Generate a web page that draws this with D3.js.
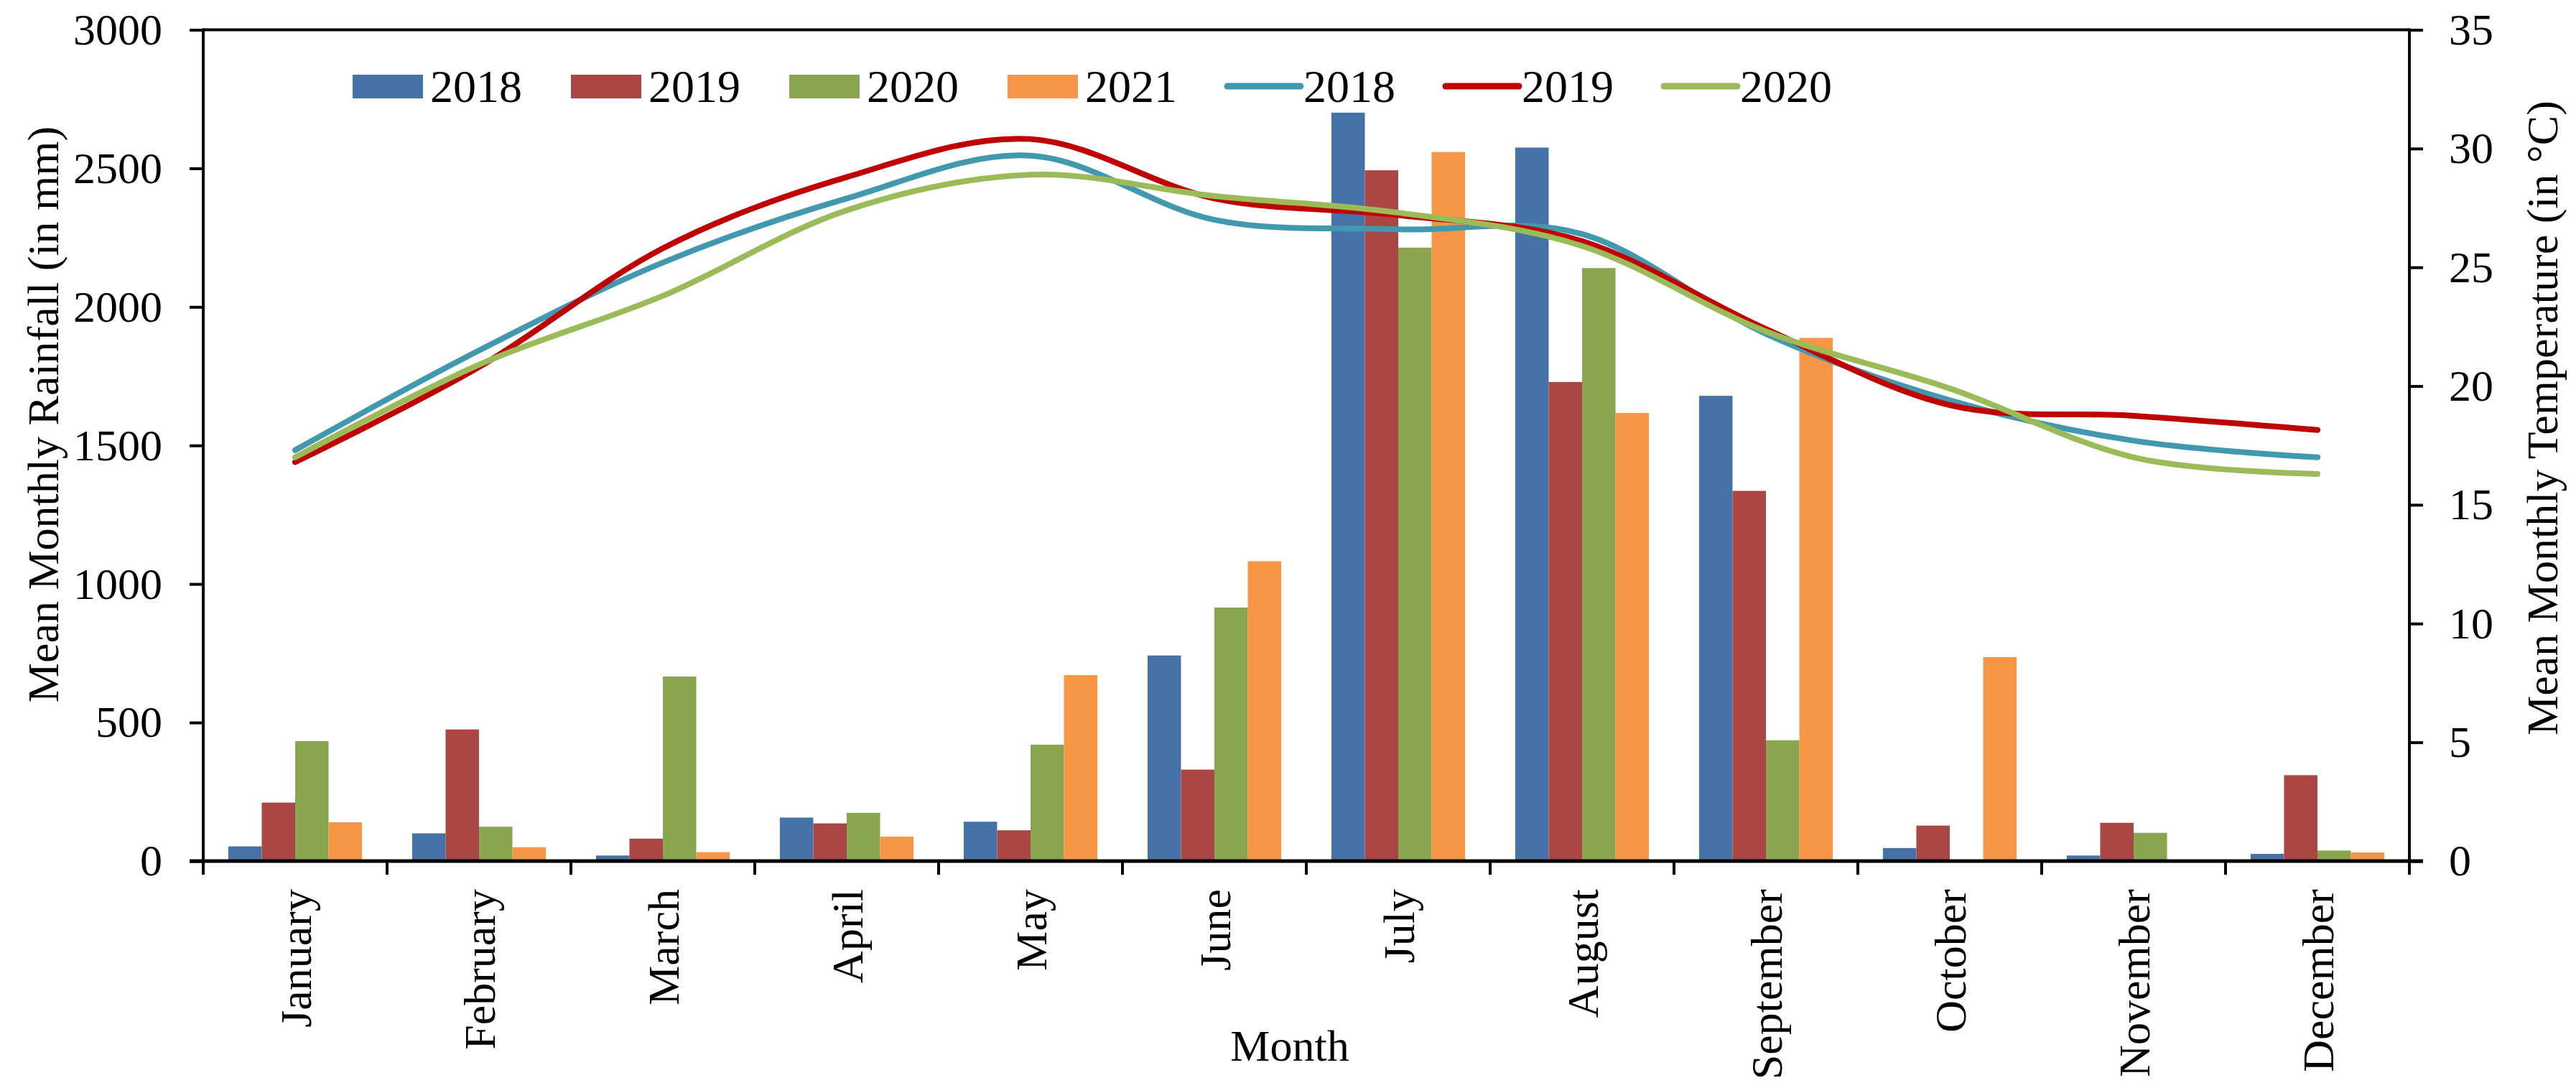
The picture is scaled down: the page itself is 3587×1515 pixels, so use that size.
<!DOCTYPE html>
<html>
<head>
<meta charset="utf-8">
<script src="https://cdn.jsdelivr.net/npm/d3@7"></script>
<style>
  body { margin: 0; background: #fff; }
  text { font-family: "Liberation Serif", "Times New Roman", serif; fill: #000; }
</style>
</head>
<body>
<div id="chart"></div>
<script>
// months on the x axis
var months = ["January", "February", "March", "April", "May", "June", "July",
              "August", "September", "October", "November", "December"];
var barYears = ["2018", "2019", "2020", "2021"];
var lineYears = ["2018", "2019", "2020"];

// mean monthly rainfall (mm)
var rain2018 = [53, 100, 20, 157, 142, 742, 2701, 2575, 1679, 47, 20, 26];
var rain2019 = [211, 475, 81, 136, 111, 330, 2493, 1729, 1336, 128, 138, 310];
var rain2020 = [433, 124, 666, 174, 420, 915, 2214, 2140, 436, 0, 102, 38];
var rain2021 = [140, 50, 32, 88, 671, 1082, 2559, 1617, 1888, 736, 0, 31];

// mean monthly temperature (deg C)
var temp2018 = [17.3, 21.5, 25.2, 27.9, 29.7, 27.0, 26.6, 26.4, 22.2, 19.4, 17.7, 17.0];
var temp2019 = [16.8, 20.8, 25.8, 28.8, 30.4, 27.9, 27.2, 26.1, 22.4, 19.2, 18.75, 18.15];
var temp2020 = [17.0, 20.9, 23.8, 27.4, 28.9, 28.0, 27.3, 25.9, 22.3, 19.9, 17.0, 16.3];

var rainTicks = [0, 500, 1000, 1500, 2000, 2500, 3000];
var tempTicks = [0, 5, 10, 15, 20, 25, 30, 35];

var rainSeries = [rain2018, rain2019, rain2020, rain2021];
var tempSeries = [temp2018, temp2019, temp2020];
var barColors = ["#4572A7", "#AA4643", "#89A54E", "#F79646"];
var lineColors = ["#4198AF", "#C00000", "#9BBB59"];

var W = 3587, H = 1515;
var plotLeft = 283, plotRight = 3355, plotTop = 41.5, plotBottom = 1199;
var fs = 62;

var svg = d3.select("#chart").append("svg")
    .attr("width", W)
    .attr("height", H)
    .style("background", "#fff");

var x0 = d3.scaleBand().domain(months).range([plotLeft, plotRight]).paddingInner(0).paddingOuter(0);
var x1 = d3.scaleBand().domain(barYears).range([0, x0.bandwidth()]).paddingInner(0).paddingOuter(0.75);
var yRain = d3.scaleLinear().domain([0, 3000]).range([plotBottom, plotTop]);
var yTemp = d3.scaleLinear().domain([0, 35]).range([plotBottom, plotTop]);

// bars
var barData = [];
months.forEach(function(m, i) {
  barYears.forEach(function(yr, j) {
    barData.push({ month: m, year: yr, value: rainSeries[j][i], color: barColors[j] });
  });
});

svg.append("g").selectAll("rect")
  .data(barData)
  .enter().append("rect")
    .attr("x", function(d) { return x0(d.month) + x1(d.year); })
    .attr("y", function(d) { return yRain(d.value); })
    .attr("width", x1.bandwidth())
    .attr("height", function(d) { return yRain(0) - yRain(d.value); })
    .style("fill", function(d) { return d.color; });

// smoothed temperature lines
var line = d3.line()
    .x(function(d, i) { return x0(months[i]) + x0.bandwidth() / 2; })
    .y(function(d) { return yTemp(d); })
    .curve(d3.curveCatmullRom.alpha(0));

svg.append("g").selectAll("path")
  .data(tempSeries)
  .enter().append("path")
    .attr("d", line)
    .style("fill", "none")
    .style("stroke", function(d, i) { return lineColors[i]; })
    .style("stroke-width", 8)
    .style("stroke-linecap", "round");

// top border
svg.append("line")
    .attr("x1", plotLeft).attr("x2", plotRight)
    .attr("y1", plotTop).attr("y2", plotTop)
    .style("stroke", "#000").style("stroke-width", 4);

// left axis
var axL = svg.append("g")
    .attr("transform", "translate(" + plotLeft + ",0)")
    .call(d3.axisLeft(yRain).tickValues(rainTicks).tickFormat(d3.format("d"))
      .tickSize(19).tickPadding(38).tickSizeOuter(0));
axL.select(".domain").remove();
axL.selectAll(".tick line").style("stroke", "#000").style("stroke-width", 4);
axL.selectAll("text").style("font-size", fs + "px").style("font-family", "Liberation Serif");

// right axis
var axR = svg.append("g")
    .attr("transform", "translate(" + plotRight + ",0)")
    .call(d3.axisRight(yTemp).tickValues(tempTicks).tickFormat(d3.format("d"))
      .tickSize(19).tickPadding(36).tickSizeOuter(0));
axR.select(".domain").remove();
axR.selectAll(".tick line").style("stroke", "#000").style("stroke-width", 4);
axR.selectAll("text").style("font-size", fs + "px").style("font-family", "Liberation Serif");

// vertical axis lines, extending down to the category tick length
svg.append("line").attr("x1", plotLeft).attr("x2", plotLeft).attr("y1", plotTop - 2).attr("y2", plotBottom + 19)
    .style("stroke", "#000").style("stroke-width", 4);
svg.append("line").attr("x1", plotRight).attr("x2", plotRight).attr("y1", plotTop - 2).attr("y2", plotBottom + 19)
    .style("stroke", "#000").style("stroke-width", 4);

// bottom axis
svg.append("line")
    .attr("x1", plotLeft - 19).attr("x2", plotRight + 19)
    .attr("y1", plotBottom).attr("y2", plotBottom)
    .style("stroke", "#000").style("stroke-width", 5);

svg.append("g").selectAll("line")
  .data(months.slice(1))
  .enter().append("line")
    .attr("x1", function(d) { return x0(d); })
    .attr("x2", function(d) { return x0(d); })
    .attr("y1", plotBottom)
    .attr("y2", plotBottom + 19)
    .style("stroke", "#000").style("stroke-width", 4);

svg.append("g").selectAll("text")
  .data(months)
  .enter().append("text")
    .text(function(d) { return d; })
    .attr("transform", function(d) {
      return "translate(" + (x0(d) + x0.bandwidth() / 2) + "," + (plotBottom + 39) + ") rotate(-90)";
    })
    .attr("dy", "0.35em")
    .style("text-anchor", "end")
    .style("font-size", fs + "px");

// axis titles
svg.append("text")
    .text("Mean Monthly Rainfall (in mm)")
    .attr("transform", "translate(59,577) rotate(-90)")
    .attr("dy", "0.35em")
    .style("text-anchor", "middle")
    .style("font-size", fs + "px");

svg.append("text")
    .text("Mean Monthly Temperature (in °C)")
    .attr("transform", "translate(3539,582) rotate(-90)")
    .attr("dy", "0.35em")
    .style("text-anchor", "middle")
    .style("font-size", fs + "px");

svg.append("text")
    .text("Month")
    .attr("x", 1796)
    .attr("y", 1477)
    .style("text-anchor", "middle")
    .style("font-size", fs + "px");

// legend
var legendItems = [];
barYears.forEach(function(yr, i) { legendItems.push({ label: yr, type: "bar", color: barColors[i] }); });
lineYears.forEach(function(yr, i) { legendItems.push({ label: yr, type: "line", color: lineColors[i] }); });

var legend = svg.append("g").selectAll(".legend")
  .data(legendItems)
  .enter().append("g")
    .attr("class", "legend")
    .attr("transform", function(d, i) { return "translate(" + (491 + i * 304) + ",0)"; });

legend.filter(function(d) { return d.type == "bar"; })
  .append("rect")
    .attr("x", 0).attr("y", 104)
    .attr("width", 98).attr("height", 33)
    .style("fill", function(d) { return d.color; });

legend.filter(function(d) { return d.type == "line"; })
  .append("line")
    .attr("x1", 2).attr("x2", 104)
    .attr("y1", 120).attr("y2", 120)
    .style("stroke", function(d) { return d.color; })
    .style("stroke-width", 9)
    .style("stroke-linecap", "round");

legend.append("text")
    .text(function(d) { return d.label; })
    .attr("x", 108)
    .attr("y", 142)
    .style("font-size", "64px");
</script>
</body>
</html>
